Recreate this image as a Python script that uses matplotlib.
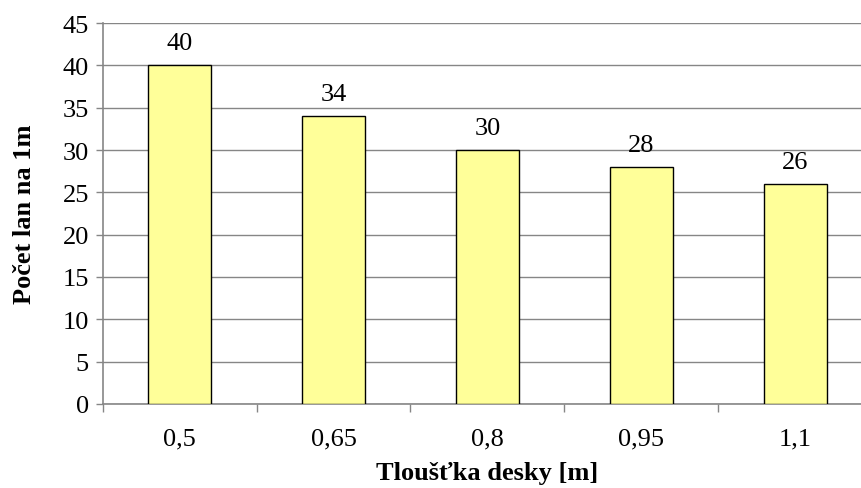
import matplotlib
matplotlib.use('Agg')
import matplotlib.pyplot as plt
import numpy as np

# Data
thickness = ['0,5', '0,65', '0,8', '0,95', '1,1']
cable_count = [40, 34, 30, 28, 26]
y_ticks = [0, 5, 10, 15, 20, 25, 30, 35, 40, 45]

plt.rcParams['font.family'] = ['Liberation Serif', 'DejaVu Serif']

axis_gray = '#868686'
fs = 19

fig = plt.figure(figsize=(8.62, 4.89), dpi=100)
# plot area runs slightly past the right edge, as in the source image
ax = fig.add_axes([0.1191, 0.1718, 0.8925, 0.7791])

x = np.arange(len(thickness))
ax.bar(x, cable_count, width=0.41, color='#FFFF99', edgecolor='black',
       linewidth=1.0, zorder=3)

for xi, val in zip(x, cable_count):
    ax.annotate(f'{val}', (xi, val), xytext=(0, 8), textcoords='offset points',
                ha='center', va='bottom', fontsize=fs)

ax.set_xlim(-0.5, len(thickness) - 0.5)
ax.set_ylim(0, 45)
ax.set_yticks(y_ticks)
ax.set_xticks(x)
ax.set_xticklabels(thickness)
ax.set_xticks(np.arange(-0.5, len(thickness), 1.0), minor=True)

ax.tick_params(axis='x', which='major', length=0, pad=17, labelsize=fs)
ax.tick_params(axis='x', which='minor', length=6, width=1.0, color=axis_gray)
ax.tick_params(axis='y', length=5, width=1.0, color=axis_gray, pad=5,
               labelsize=fs)

ax.grid(axis='y', color=axis_gray, linewidth=1.0, zorder=0)
ax.set_axisbelow(True)

for side in ['top', 'right']:
    ax.spines[side].set_visible(False)
for side in ['left', 'bottom']:
    ax.spines[side].set_color(axis_gray)
    ax.spines[side].set_linewidth(1.2)

ax.set_xlabel('Tloušťka desky [m]', fontsize=fs, fontweight='bold', labelpad=8)
ax.set_ylabel('Počet lan na 1m', fontsize=fs, fontweight='bold', labelpad=19)

plt.savefig('out.png', dpi=100)
plt.close()
